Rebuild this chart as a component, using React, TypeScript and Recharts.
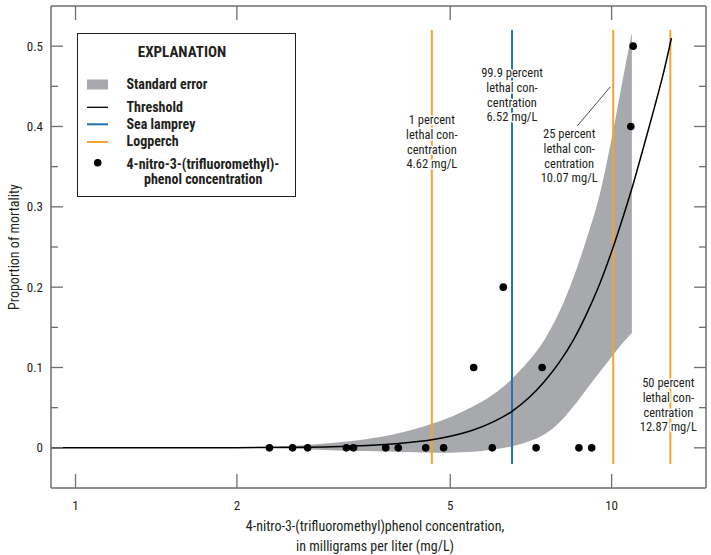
import React from 'react';
import { ComposedChart, XAxis, YAxis, Line, Area, Scatter, ReferenceLine } from 'recharts';

const xTicks = [1, 2, 5, 10];
const yTicks = [0, 0.05, 0.1, 0.15, 0.2, 0.25, 0.3, 0.35, 0.4, 0.45, 0.5];

// Threshold (fitted mortality) curve
const curveX = [0.9, 1.5, 2, 2.5, 3, 3.5, 4, 4.62, 5, 5.5, 6, 6.52, 7, 7.5, 8, 8.5, 9, 9.5, 10.07, 10.5, 11, 11.5, 12, 12.5, 12.93];
const curveP = [0, 0.0001, 0.0002, 0.0007, 0.0015, 0.003, 0.0054, 0.01, 0.0143, 0.0218, 0.032, 0.0455, 0.062, 0.083, 0.107, 0.135, 0.168, 0.204, 0.25, 0.287, 0.331, 0.377, 0.422, 0.467, 0.51];

// Standard error band
const bandX = [2, 2.5, 3, 3.5, 4, 4.62, 5, 5.5, 6, 6.52, 7, 7.5, 8, 8.5, 9, 9.5, 10.07, 10.5, 10.91];
const bandLow = [0, -0.001, -0.003, -0.004, -0.005, -0.006, -0.006, -0.005, -0.002, 0.002, 0.008, 0.017, 0.032, 0.052, 0.074, 0.094, 0.116, 0.131, 0.143];
const bandHigh = [0.0005, 0.002, 0.006, 0.011, 0.018, 0.03, 0.038, 0.051, 0.066, 0.086, 0.108, 0.135, 0.17, 0.213, 0.262, 0.315, 0.395, 0.46, 0.517];

// Observed concentrations and mortality
const dotX = [2.3, 2.54, 2.71, 3.2, 3.3, 3.79, 4.0, 4.5, 4.86, 5.53, 5.99, 6.28, 7.23, 7.42, 8.69, 9.18, 10.86, 10.97];
const dotY = [0, 0, 0, 0, 0, 0, 0, 0, 0, 0.1, 0, 0.2, 0, 0.1, 0, 0, 0.4, 0.5];

// Lethal concentrations
const logperchLC = [4.62, 10.07, 12.87];
const lampreyLC = [6.52];
const lcLabels: Record<string, string[]> = {
  '4.62': ['1 percent', 'lethal con-', 'centration', '4.62 mg/L'],
  '6.52': ['99.9 percent', 'lethal con-', 'centration', '6.52 mg/L'],
  '10.07': ['25 percent', 'lethal con-', 'centration', '10.07 mg/L'],
  '12.87': ['50 percent', 'lethal con-', 'centration', '12.87 mg/L'],
};
const lineSpan = [-0.02, 0.52];

const curveData = curveX.map((x, i) => ({ x, y: curveP[i] }));
const bandData = bandX.map((x, i) => ({ x, band: [bandLow[i], bandHigh[i]] }));
const dotData = dotX.map((x, i) => ({ x, y: dotY[i] }));

const FONT = "'Liberation Sans Narrow', 'Arial Narrow', 'Roboto Condensed', sans-serif";
const INK = '#231f20';
const FRAME = '#6d6e71';
const ORANGE = '#f0a534';
const BLUE = '#2272b4';
const GRAY = '#a7a9ac';

const isMajor = (v: number) => Math.abs(v * 10 - Math.round(v * 10)) < 1e-6;

const BottomTick = (p: any) => (
  <g>
    <line x1={p.x} x2={p.x} y1={p.y} y2={p.y - 14} stroke={FRAME} strokeWidth={1.3} />
    <text x={p.x} y={p.y + 22} textAnchor="middle" fontSize={13} fill={INK} fontFamily={FONT}>
      {p.payload.value}
    </text>
  </g>
);
const TopTick = (p: any) => (
  <line x1={p.x} x2={p.x} y1={p.y} y2={p.y + 14} stroke={FRAME} strokeWidth={1.3} />
);
const LeftTick = (p: any) => {
  const v = p.payload.value;
  const major = isMajor(v);
  return (
    <g>
      <line x1={p.x} x2={p.x + (major ? 12 : 7)} y1={p.y} y2={p.y} stroke={FRAME} strokeWidth={1.3} />
      {major && (
        <text x={p.x - 8} y={p.y} dy={4.5} textAnchor="end" fontSize={13} fill={INK} fontFamily={FONT}>
          {String(Math.round(v * 10) / 10)}
        </text>
      )}
    </g>
  );
};
const RightTick = (p: any) => {
  const major = isMajor(p.payload.value);
  return <line x1={p.x} x2={p.x - (major ? 12 : 7)} y1={p.y} y2={p.y} stroke={FRAME} strokeWidth={1.3} />;
};

const labelLayout: Record<string, { dx: number; y0: number; leader?: boolean }> = {
  '4.62': { dx: 0, y0: 119.5 },
  '6.52': { dx: 0, y0: 72.5 },
  '10.07': { dx: -44, y0: 133.5, leader: true },
  '12.87': { dx: -2, y0: 382.5 },
};

const makeLabel = (key: string) => (props: any) => {
  const vb = props.viewBox || {};
  const lx = vb.x;
  const lay = labelLayout[key];
  const lines = lcLabels[key];
  return (
    <g>
      {lay.leader && <line x1={lx - 36} y1={126} x2={lx - 3} y2={87} stroke={INK} strokeWidth={0.8} />}
      {lines.map((t, i) => (
        <text
          key={i}
          x={lx + lay.dx}
          y={lay.y0 + i * 14.8}
          dy={4.5}
          textAnchor="middle"
          fontSize={12.5}
          fill={INK}
          fontFamily={FONT}
          stroke="#fff"
          strokeWidth={3}
          paintOrder="stroke"
          strokeLinejoin="round"
        >
          {t}
        </text>
      ))}
    </g>
  );
};

const Dot = (p: any) => <circle cx={p.cx} cy={p.cy} r={3.8} fill="#000" />;

const legendItems = ['Standard error', 'Threshold', 'Sea lamprey', 'Logperch'];

export default function App() {
  return (
    <div style={{ position: 'absolute', left: 0, top: 0, width: 711, height: 555, background: '#fff', fontFamily: FONT }}>
      <ComposedChart width={711} height={555} margin={{ top: 5, right: 4, bottom: 66, left: 50 }}>
        <XAxis
          dataKey="x"
          type="number"
          scale="log"
          domain={[0.9, 15]}
          allowDataOverflow
          ticks={xTicks}
          height={1}
          tickSize={0}
          tickMargin={0}
          tick={<BottomTick />}
          axisLine={{ stroke: FRAME, strokeWidth: 1.5 }}
          tickLine={false}
          interval={0}
        />
        <XAxis
          xAxisId="top"
          orientation="top"
          dataKey="x"
          type="number"
          scale="log"
          domain={[0.9, 15]}
          allowDataOverflow
          ticks={xTicks}
          height={1}
          tickSize={0}
          tickMargin={0}
          tick={<TopTick />}
          axisLine={{ stroke: FRAME, strokeWidth: 1.5 }}
          tickLine={false}
          interval={0}
        />
        <YAxis
          dataKey="y"
          type="number"
          domain={[-0.05, 0.55]}
          allowDataOverflow
          ticks={yTicks}
          width={1}
          tickSize={0}
          tickMargin={0}
          tick={<LeftTick />}
          axisLine={{ stroke: FRAME, strokeWidth: 1.5 }}
          tickLine={false}
          interval={0}
        />
        <YAxis
          yAxisId="right"
          orientation="right"
          type="number"
          domain={[-0.05, 0.55]}
          allowDataOverflow
          ticks={yTicks}
          width={1}
          tickSize={0}
          tickMargin={0}
          tick={<RightTick />}
          axisLine={{ stroke: FRAME, strokeWidth: 1.5 }}
          tickLine={false}
          interval={0}
        />
        <Area
          data={bandData}
          dataKey="band"
          type="monotone"
          fill={GRAY}
          fillOpacity={1}
          stroke="none"
          isAnimationActive={false}
          activeDot={false}
        />
        {logperchLC.map((v) => (
          <ReferenceLine
            key={'lp' + v}
            segment={[{ x: v, y: lineSpan[0] }, { x: v, y: lineSpan[1] }]}
            stroke={ORANGE}
            strokeWidth={2}
            label={{ content: makeLabel(String(v)) }}
          />
        ))}
        {lampreyLC.map((v) => (
          <ReferenceLine
            key={'sl' + v}
            segment={[{ x: v, y: lineSpan[0] }, { x: v, y: lineSpan[1] }]}
            stroke={BLUE}
            strokeWidth={2}
            label={{ content: makeLabel(String(v)) }}
          />
        ))}
        <Line
          data={curveData}
          dataKey="y"
          type="monotone"
          stroke="#000"
          strokeWidth={1.5}
          dot={false}
          activeDot={false}
          isAnimationActive={false}
        />
        <Scatter data={dotData} dataKey="y" shape={<Dot />} isAnimationActive={false} />
      </ComposedChart>

      <svg width={711} height={555} style={{ position: 'absolute', left: 0, top: 0, pointerEvents: 'none' }}>
        <text x={375} y={526} dy={5} textAnchor="middle" fontSize={14} fill={INK} fontFamily={FONT}>
          4-nitro-3-(trifluoromethyl)phenol concentration,
        </text>
        <text x={375} y={546} dy={5} textAnchor="middle" fontSize={14} fill={INK} fontFamily={FONT}>
          in milligrams per liter (mg/L)
        </text>
        <text
          x={14}
          y={247}
          dy={5}
          textAnchor="middle"
          fontSize={14}
          fill={INK}
          fontFamily={FONT}
          transform="rotate(-90 14 247)"
        >
          Proportion of mortality
        </text>

        <rect x={77.5} y={33.5} width={218} height={163} fill="#fff" stroke={INK} strokeWidth={1} />
        <text x={182} y={52} dy={5} textAnchor="middle" fontSize={15} fontWeight="bold" fill={INK} fontFamily={FONT}>
          EXPLANATION
        </text>
        <rect x={87} y={79.5} width={21} height={10} fill={GRAY} />
        <line x1={87} x2={108} y1={107.3} y2={107.3} stroke="#000" strokeWidth={1.3} />
        <line x1={87} x2={108} y1={124.3} y2={124.3} stroke={BLUE} strokeWidth={2} />
        <line x1={87} x2={108} y1={142} y2={142} stroke={ORANGE} strokeWidth={2} />
        <circle cx={97.7} cy={162.7} r={3.8} fill="#000" />
        {legendItems.map((t, i) => (
          <text
            key={t}
            x={126.5}
            y={[84, 106.7, 124, 140.7][i]}
            dy={5}
            fontSize={14}
            fontWeight="bold"
            fill={INK}
            fontFamily={FONT}
          >
            {t}
          </text>
        ))}
        <text x={126.5} y={164} dy={5} fontSize={14} fontWeight="bold" fill={INK} fontFamily={FONT}>
          4-nitro-3-(trifluoromethyl)-
        </text>
        <text x={144} y={178.5} dy={5} fontSize={14} fontWeight="bold" fill={INK} fontFamily={FONT}>
          phenol concentration
        </text>
      </svg>
    </div>
  );
}
